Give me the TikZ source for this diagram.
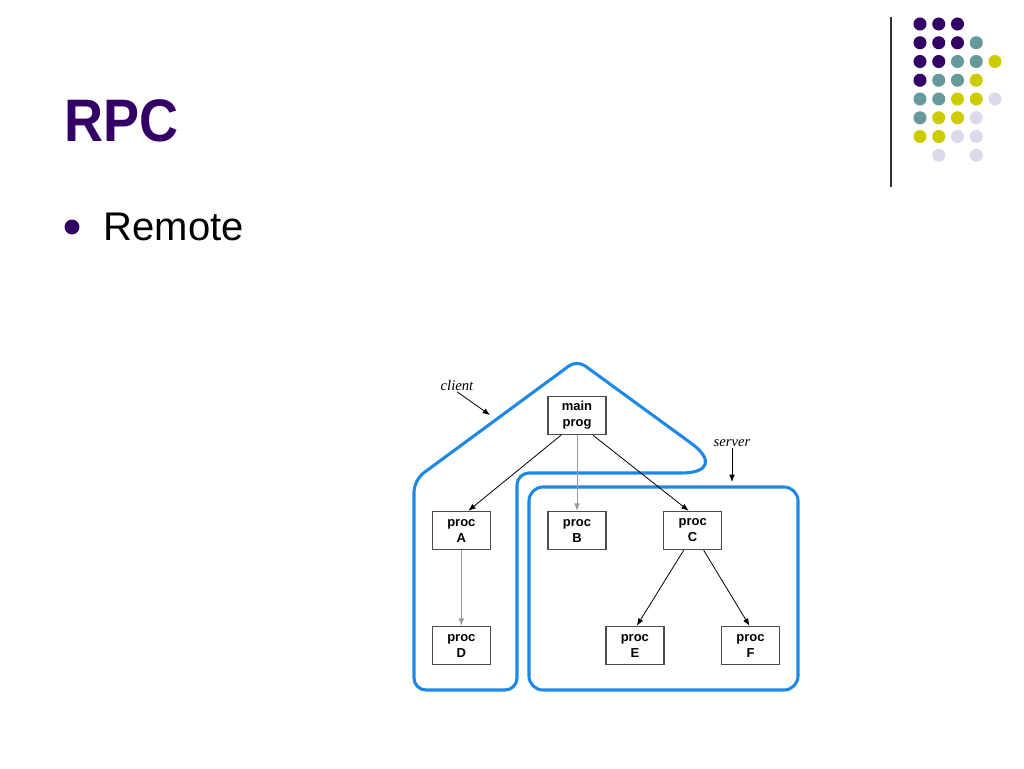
\documentclass[tikz,border=0pt]{standalone}
\usepackage{fontspec}
\setmainfont{Liberation Sans}
\newfontfamily\labelfont{Liberation Serif}
\usetikzlibrary{arrows.meta}

\definecolor{slidepurple}{RGB}{51,0,102}
\definecolor{dotteal}{RGB}{102,153,153}
\definecolor{dotyellow}{RGB}{204,204,0}
\definecolor{dotlilac}{RGB}{218,218,235}
\definecolor{hullblue}{RGB}{30,136,229}

\begin{document}
\begin{tikzpicture}[x=0.75pt, y=-0.75pt,
  level distance=86.25pt, sibling distance=86.75pt,
  procbox/.style = {shape=rectangle, draw=black!70, line width=1.1pt,
    minimum width=43.5pt, minimum height=28.5pt, inner sep=0pt,
    align=center, font=\bfseries\fontsize{9.75}{12}\selectfont},
  every child node/.style = {procbox},
  edge from parent/.style = {draw, line width=0.6pt, -{Latex[length=5.5pt,width=4.25pt]}},
  hull/.style = {draw=hullblue, line width=2.3pt},
  tag/.style = {font=\labelfont\itshape\fontsize{11}{13}\selectfont, inner sep=1pt}]

  \useasboundingbox (0,0) rectangle (1024,768);

  % slide header
  \node[anchor=base west, text=slidepurple, font=\bfseries\fontsize{45}{54}\selectfont] (title) at (60,141) {\scalebox{0.9}[1]{RPC}};
  \fill[slidepurple] (72,227) circle (5.6pt);
  \node[anchor=base west, font=\fontsize{30}{36}\selectfont] (remote) at (99,240) {Remote};
  \draw[black!80, line width=1.1pt] (891,17) -- (891,187);

  % dot pattern
  \foreach \c/\r/\clr in {0/0/slidepurple, 1/0/slidepurple, 2/0/slidepurple,
      0/1/slidepurple, 1/1/slidepurple, 2/1/slidepurple, 3/1/dotteal,
      0/2/slidepurple, 1/2/slidepurple, 2/2/dotteal, 3/2/dotteal, 4/2/dotyellow,
      0/3/slidepurple, 1/3/dotteal, 2/3/dotteal, 3/3/dotyellow,
      0/4/dotteal, 1/4/dotteal, 2/4/dotyellow, 3/4/dotyellow, 4/4/dotlilac,
      0/5/dotteal, 1/5/dotyellow, 2/5/dotyellow, 3/5/dotlilac,
      0/6/dotyellow, 1/6/dotyellow, 2/6/dotlilac, 3/6/dotlilac,
      1/7/dotlilac, 3/7/dotlilac}
    \fill[\clr] (920+18.75*\c, 24+18.75*\r) circle (4.9pt);

  % client and server hulls
  \draw[hull] (465,690) [rounded corners=9pt] -- (414,690) -- (414,480)
    [rounded corners=7.5pt] -- (577,360) [rounded corners=38pt] -- (732,473)
    [rounded corners=9pt] -- (517,473) -- (517,690) -- cycle;
  \draw[hull, rounded corners=10.5pt] (529,487) rectangle (798,690);

  % call tree
  \node[procbox] (main) at (577,415.5) {main\\prog}
    child[edge from parent path={([xshift=-12pt]\tikzparentnode.south) -- ([xshift=5.25pt]\tikzchildnode.north)}] {
      node (procA) {proc\\A}
      child[edge from parent path={(\tikzparentnode.south) -- (\tikzchildnode.north)}] {
        node (procD) {proc\\D} edge from parent[draw=black!40] } }
    child { node (procB) {proc\\B} edge from parent[draw=black!40] }
    child[edge from parent path={([xshift=12pt]\tikzparentnode.south) -- ([xshift=-3pt]\tikzchildnode.north)}] {
      node (procC) {proc\\C}
      child[edge from parent path={([xshift=-6.75pt]\tikzparentnode.south) -- ([xshift=1.5pt]\tikzchildnode.north)}] { node (procE) {proc\\E} }
      child[edge from parent path={([xshift=8.25pt]\tikzparentnode.south) -- ([xshift=-0.75pt]\tikzchildnode.north)}] { node (procF) {proc\\F} } };

  % labels
  \node[tag] (clientlbl) at (457,385) {client};
  \coordinate (clienttip) at (490,415);
  \draw[line width=0.6pt, -{Latex[length=5.5pt,width=4.25pt]}] (clientlbl.south) -- (clienttip);
  \node[tag] (serverlbl) at (732,443) {server};
  \coordinate (servertip) at (732,482);
  \draw[line width=0.6pt, -{Latex[length=5.5pt,width=4.25pt]}] (serverlbl.south) -- (servertip);
\end{tikzpicture}
\end{document}
